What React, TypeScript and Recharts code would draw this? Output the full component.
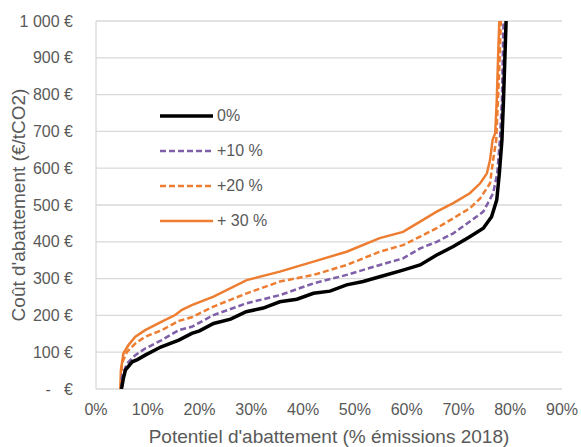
import { LineChart, Line, XAxis, YAxis, CartesianGrid } from 'recharts';

// courbe de coût d'abattement
const base = [
  [4.9, 0], [5.0, 6], [5.3, 30], [5.7, 52], [7.0, 74], [8.0, 80], [9.5, 92],
  [12.5, 114], [16.0, 133], [18.5, 151], [20.0, 158], [22.7, 178], [26.0, 190],
  [29.0, 210], [32.3, 220], [35.5, 237], [38.8, 244], [42.0, 260], [45.2, 266],
  [48.4, 283], [51.6, 292], [54.8, 305], [59.3, 323], [62.6, 337], [65.8, 364],
  [69.0, 387], [72.2, 414], [74.8, 437], [76.4, 468], [77.4, 514], [77.9, 586],
  [78.4, 677], [78.7, 785], [79.2, 1000], [79.6, 1150],
];
const plus10 = [
  [4.9, 0], [5.0, 33], [6.0, 70], [7.6, 92], [9.5, 110], [12.7, 133], [16.0, 160],
  [18.5, 169], [22.7, 201], [29.1, 233], [35.5, 255], [42.0, 287], [48.4, 310],
  [54.8, 337], [59.3, 355], [62.6, 382], [65.8, 400], [69.0, 423], [72.2, 455],
  [74.8, 482], [76.7, 532], [77.5, 586], [78.0, 677], [78.4, 785], [78.7, 1000],
  [79.0, 1150],
];
const plus20 = [
  [4.8, 0], [5.0, 70], [6.0, 101], [7.6, 124], [9.5, 142], [12.7, 160], [16.0, 185],
  [18.5, 195], [22.7, 224], [29.1, 260], [35.5, 292], [42.0, 310], [48.4, 337],
  [54.8, 373], [59.3, 391], [62.6, 414], [65.8, 437], [69.0, 464], [72.2, 491],
  [74.2, 518], [76.1, 559], [76.7, 622], [77.3, 677], [77.9, 876], [78.2, 1000],
  [78.5, 1150],
];
const plus30 = [
  [4.7, 0], [4.8, 50], [5.3, 97], [6.3, 120], [7.6, 142], [9.5, 160], [12.7, 183],
  [15.3, 201], [16.6, 215], [18.5, 228], [22.7, 251], [29.1, 296], [35.5, 319],
  [42.0, 346], [48.4, 373], [54.8, 410], [59.3, 427], [62.6, 455], [65.8, 482],
  [69.0, 505], [72.2, 532], [74.2, 559], [75.5, 586], [76.1, 622], [76.6, 677],
  [77.1, 695], [77.4, 785], [77.7, 921], [77.9, 1000], [78.2, 1150],
];

const seriesNames = ['0%', '+10 %', '+20 %', '+ 30 %'];
const xTicks = [0, 10, 20, 30, 40, 50, 60, 70, 80, 90];
const yTicks = [0, 100, 200, 300, 400, 500, 600, 700, 800, 900, 1000];

const toRows = (pts: number[][]) => pts.map(([x, y]) => ({ x, y }));

const styles = [
  { color: '#000000', width: 3.5, dash: undefined },
  { color: '#7f5fa8', width: 2.5, dash: '6 3' },
  { color: '#ed7d31', width: 2.5, dash: '6 3' },
  { color: '#ed7d31', width: 2.5, dash: undefined },
];

const fmtEuro = (v: number) =>
  v === 0 ? '-\u00a0\u00a0\u00a0€' : String(v).replace(/\B(?=(\d{3})+(?!\d))/g, '\u00a0') + '\u00a0€';

const font = '"Liberation Sans", Arial, sans-serif';
const grey = '#595959';

function LegendBox() {
  return (
    <div style={{ position: 'absolute', left: 159, top: 98, fontFamily: font, fontSize: 16, color: grey }}>
      {seriesNames.map((name, i) => (
        <div key={name} style={{ display: 'flex', alignItems: 'center', height: 35 }}>
          <svg width={56} height={10}>
            <line
              x1={1}
              y1={5}
              x2={54}
              y2={5}
              stroke={styles[i].color}
              strokeWidth={styles[i].width}
              strokeDasharray={styles[i].dash}
            />
          </svg>
          <span style={{ marginLeft: 2 }}>{name}</span>
        </div>
      ))}
    </div>
  );
}

export default function App() {
  const all = [base, plus10, plus20, plus30];
  return (
    <div style={{ position: 'absolute', left: 0, top: 0, width: 581, height: 447, background: '#fff' }}>
      <LineChart width={581} height={447} margin={{ top: 21, right: 19, left: 0, bottom: 0 }}>
        <CartesianGrid vertical={false} stroke="#d9d9d9" strokeWidth={1.3} />
        <XAxis
          type="number"
          dataKey="x"
          domain={[0, 90]}
          ticks={xTicks}
          interval={0}
          tickFormatter={(v: number) => `${v}%`}
          height={58}
          tickLine={false}
          axisLine={false}
          tickSize={0}
          tickMargin={15}
          tick={{ fill: grey, fontSize: 16, fontFamily: font }}
          label={{
            value: "Potentiel d'abattement (% émissions 2018)",
            position: 'insideBottom',
            offset: 4,
            fill: grey,
            fontSize: 19,
            fontFamily: font,
          }}
        />
        <YAxis
          type="number"
          domain={[0, 1000]}
          allowDataOverflow
          ticks={yTicks}
          interval={0}
          tickFormatter={fmtEuro}
          width={96}
          tickLine={false}
          axisLine={{ stroke: '#d9d9d9', strokeWidth: 1.3 }}
          tickSize={0}
          tickMargin={23}
          tick={{ fill: grey, fontSize: 16, fontFamily: font }}
          label={{
            value: "Coût d'abattement (€/tCO2)",
            angle: -90,
            position: 'insideLeft',
            offset: 18,
            fill: grey,
            fontSize: 19,
            fontFamily: font,
            style: { textAnchor: 'middle' },
          }}
        />
        {all.map((pts, i) => (
          <Line
            key={seriesNames[i]}
            name={seriesNames[i]}
            data={toRows(pts)}
            dataKey="y"
            type="linear"
            stroke={styles[i].color}
            strokeWidth={styles[i].width}
            strokeDasharray={styles[i].dash}
            dot={false}
            activeDot={false}
            isAnimationActive={false}
          />
        )).reverse()}
      </LineChart>
      <LegendBox />
    </div>
  );
}
